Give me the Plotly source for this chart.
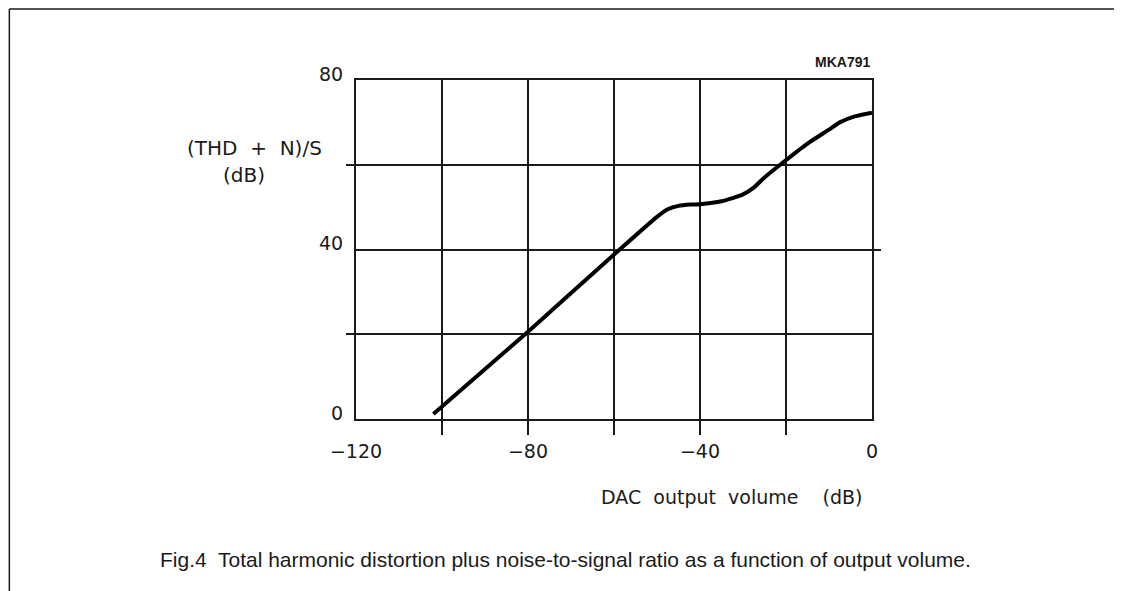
import plotly.graph_objects as go

# Data
volume_db = [-102, -80, -60, -50, -47.5, -45, -42, -40, -35, -30, -27.5, -25,
             -21, -15, -10, -7.5, -4, 0]
thdn_db = [1.2, 20.6, 38.8, 47.7, 49.5, 50.3, 50.6, 50.7, 51.4, 53.0, 54.6, 57.0,
           60.3, 65.0, 68.3, 70.0, 71.4, 72.3]

x_label_vals = [-120, -80, -40, 0]
x_minor_vals = [-100, -60, -20]
x_tick_vals = [-100, -80, -60, -40, -20]
y_label_vals = [0, 40, 80]
y_minor_vals = [20, 60]
y_right_tick = [40]

x_range = [-120, 0]
y_range = [0, 80]

INK = "#1a1a1a"
AX_FONT = dict(family="DejaVu Sans", size=19, color=INK)

fig = go.Figure()
fig.add_trace(go.Scatter(
    x=volume_db, y=thdn_db, mode="lines",
    line=dict(color="black", width=4, shape="spline", smoothing=0.6),
    showlegend=False, hoverinfo="skip"))
# invisible companion trace so the overlaying tick axes are drawn
fig.add_trace(go.Scatter(
    x=volume_db, y=thdn_db, mode="lines", xaxis="x2", yaxis="y2",
    line=dict(color="rgba(0,0,0,0)", width=0),
    showlegend=False, hoverinfo="skip"))

fig.update_layout(
    width=1122, height=591,
    margin=dict(l=348, r=257.5, t=72, b=180),
    paper_bgcolor="white", plot_bgcolor="white",
    xaxis=dict(
        range=x_range, tickvals=x_label_vals, ticks="",
        showgrid=True, gridcolor=INK, gridwidth=1.5,
        showline=True, linecolor=INK, linewidth=2, mirror=True,
        zeroline=False, tickfont=AX_FONT, ticklabelstandoff=14,
        minor=dict(tickvals=x_minor_vals, showgrid=True, gridcolor=INK,
                   gridwidth=1.5, ticks=""),
    ),
    yaxis=dict(
        range=y_range, tickvals=y_label_vals, ticks="",
        showgrid=True, gridcolor=INK, gridwidth=1.5,
        showline=True, linecolor=INK, linewidth=2, mirror=True,
        zeroline=False, tickfont=AX_FONT, ticklabelstandoff=7,
        ticklabelshift=-6,
        minor=dict(tickvals=y_minor_vals, showgrid=True, gridcolor=INK,
                   gridwidth=1.5, ticks="outside", ticklen=8,
                   tickcolor=INK, tickwidth=1.5),
    ),
    xaxis2=dict(
        range=x_range, overlaying="x", side="bottom", anchor="y2",
        tickvals=x_tick_vals, ticks="outside", ticklen=15,
        tickcolor=INK, tickwidth=1.5, showticklabels=False,
        showgrid=False, zeroline=False, showline=False,
    ),
    yaxis2=dict(
        range=y_range, overlaying="y", side="right", anchor="x2",
        tickvals=y_right_tick, ticks="outside", ticklen=8,
        tickcolor=INK, tickwidth=1.5, showticklabels=False,
        showgrid=False, zeroline=False, showline=False,
    ),
)

annos = [
    dict(text="(THD  +  N)/S", x=-0.1975, y=0.7994, xanchor="center",
         yanchor="middle",
         font=dict(family="DejaVu Sans", size=20, color=INK)),
    dict(text="(dB)", x=-0.2178, y=0.7198, xanchor="center",
         yanchor="middle",
         font=dict(family="DejaVu Sans", size=20, color=INK)),
    dict(text="DAC  output  volume    (dB)", x=0.9855, y=-0.23,
         xanchor="right", yanchor="middle",
         font=dict(family="DejaVu Sans", size=19, color=INK)),
    dict(text="<b>MKA791</b>", x=1.0, y=1.053, xanchor="right",
         yanchor="middle",
         font=dict(family="Liberation Sans", size=14, color=INK)),
    dict(text="Fig.4  Total harmonic distortion plus noise-to-signal ratio as a function of output volume.",
         x=0.4056, y=-0.413, xanchor="center", yanchor="middle",
         font=dict(family="Liberation Sans", size=21, color=INK)),
]
for a in annos:
    fig.add_annotation(xref="paper", yref="paper", showarrow=False, **a)

# page frame lines (top and left)
fig.add_shape(type="line", xref="paper", yref="paper",
              x0=-0.6718, x1=1.6, y0=1.2094, y1=1.2094,
              line=dict(color=INK, width=1.5))
fig.add_shape(type="line", xref="paper", yref="paper",
              x0=-0.6718, x1=-0.6718, y0=1.2094, y1=-0.6,
              line=dict(color=INK, width=1.5))

fig.write_html("out.html")
